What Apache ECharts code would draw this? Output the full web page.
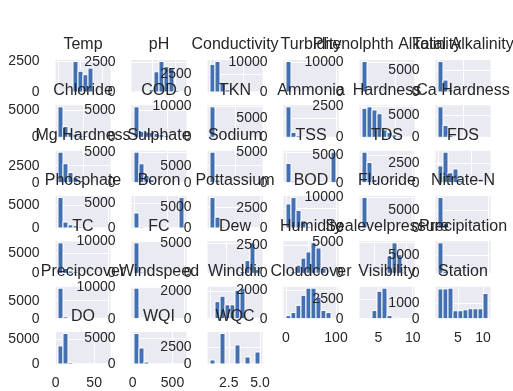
<!DOCTYPE html>
<html>
<head>
<meta charset="utf-8">
<script src="https://cdn.jsdelivr.net/npm/echarts@6/dist/echarts.min.js"></script>
<style>
  html, body { margin: 0; background: #fff; }
  #chart { width: 513px; height: 391px; }
</style>
</head>
<body>
<div id="chart"></div>
<script>
// one histogram per column, 10 bins each, laid out 6 per row
const names = [
  'Temp', 'pH', 'Conductivity', 'Turbidity', 'Phenolphth Alkalinity', 'Total Alkalinity',
  'Chloride', 'COD', 'TKN', 'Ammonia', 'Hardness', 'Ca Hardness',
  'Mg Hardness', 'Sulphate', 'Sodium', 'TSS', 'TDS', 'FDS',
  'Phosphate', 'Boron', 'Pottassium', 'BOD', 'Fluoride', 'Nitrate-N',
  'TC', 'FC', 'Dew', 'Humidity', 'Sealevelpressure', 'Precipitation',
  'Precipcover', 'Windspeed', 'Winddir', 'Cloudcover', 'Visibility', 'Station',
  'DO', 'WQI', 'WQC'
];

// bin counts
const counts = [
  [0, 5, 40, 2500, 1700, 1420, 1960, 30, 0, 5],
  [50, 30, 20, 200, 1720, 2590, 2150, 2070, 150, 50],
  [3900, 4300, 1250, 300, 100, 40, 20, 10, 5, 5],
  [10200, 60, 20, 10, 5, 3, 2, 1, 0, 1],
  [10250, 30, 10, 5, 2, 1, 1, 0, 0, 1],
  [6900, 2700, 500, 100, 40, 20, 10, 5, 2, 2],
  [5600, 2000, 800, 600, 400, 300, 200, 100, 50, 20],
  [5600, 1100, 1000, 900, 700, 500, 300, 150, 50, 20],
  [9800, 300, 100, 50, 20, 10, 5, 0, 0, 2],
  [8000, 1300, 400, 200, 80, 20, 10, 5, 0, 2],
  [2330, 2450, 2200, 1900, 600, 400, 200, 100, 50, 30],
  [6900, 2700, 500, 150, 50, 20, 10, 5, 0, 2],
  [4500, 2800, 1500, 750, 300, 150, 80, 40, 20, 10],
  [5000, 3100, 1200, 500, 200, 100, 50, 20, 10, 5],
  [9000, 800, 200, 100, 50, 20, 10, 5, 0, 2],
  [3150, 250, 80, 30, 20, 10, 10, 5, 20, 5000],
  [5600, 3700, 600, 200, 80, 30, 10, 5, 0, 2],
  [2200, 4000, 1300, 1800, 300, 100, 50, 20, 10, 5],
  [6700, 1300, 700, 500, 300, 200, 100, 50, 20, 10],
  [3000, 200, 100, 50, 20, 10, 5, 5, 20, 6100],
  [7300, 2600, 300, 100, 50, 20, 10, 5, 0, 2],
  [3000, 3800, 2200, 900, 200, 80, 30, 10, 5, 2],
  [9800, 300, 100, 50, 20, 10, 5, 2, 1, 1],
  [8500, 1200, 300, 150, 80, 40, 20, 10, 5, 2],
  [7600, 1200, 600, 400, 200, 100, 50, 30, 10, 5],
  [9600, 400, 150, 60, 30, 20, 10, 5, 2, 1],
  [5, 5, 10, 20, 50, 100, 300, 2100, 5000, 600],
  [20, 150, 715, 1340, 1880, 2680, 2230, 450, 50, 10],
  [10, 10, 20, 50, 150, 2800, 4900, 3000, 200, 30],
  [8500, 600, 300, 200, 150, 100, 80, 50, 30, 20],
  [8500, 500, 300, 200, 150, 120, 100, 80, 60, 150],
  [9600, 150, 30, 10, 5, 2, 1, 0, 0, 1],
  [50, 1230, 1620, 1000, 1000, 2050, 2200, 100, 30, 20],
  [210, 430, 930, 1640, 2140, 2140, 1500, 570, 430, 70],
  [10, 20, 1050, 3550, 3950, 400, 100, 80, 20, 10],
  [1950, 1950, 2000, 520, 520, 580, 650, 650, 650, 1650],
  [3650, 6150, 300, 50, 20, 10, 5, 0, 0, 3],
  [5850, 3070, 380, 100, 50, 20, 10, 5, 3, 2],
  [590, 0, 4480, 0, 0, 2800, 0, 1030, 0, 1760]
];

// data range of each column (first bin edge, last bin edge)
const lo = [0, 1, 0, 0, 0, 0, 0, 0, 0, 0, 0, 0, 0, 0, 0, 0, 0, 0, 0, 0,
  0, 0, 0, 0, 0, 0, -15, 10, 990, 0, 0, 0, 0, 0, 2.6, 1, 3, 18, 1];
const hi = [45, 12, 30000, 500, 300, 2000, 2000, 1500, 400, 100, 1500, 1000,
  1000, 1500, 2000, 1000, 5000, 3000, 10, 3, 100, 50, 20, 50,
  2000, 1000, 30, 100, 1030, 100, 100, 500, 360, 100, 9.9, 11, 68, 644, 5];

// tick values
const xTicks = [
  [0, 20, 40], [5, 10], [0, 20000], [0, 500], [0, 200], [0, 1000],
  [0, 1000], [0, 1000], [0, 200], [0, 100], [0, 1000], [0, 500],
  [0, 500], [0, 1000], [0, 1000], [0, 1000], [0, 5000], [0, 2000],
  [0, 10], [0, 2], [0, 100], [0, 50], [0, 20], [0, 50],
  [0, 2000], [0, 1000], [0, 20], [50, 100], [1000, 1025], [0, 100],
  [0, 100], [0, 500], [0, 200], [0, 100], [5, 10], [5, 10],
  [0, 50], [0, 500], [2.5, 5]
];
const yTicks = [
  2500, 2500, 2500, 10000, 10000, 5000,
  5000, 5000, 10000, 5000, 2500, 5000,
  2500, 5000, 5000, 5000, 5000, 2500,
  5000, 5000, 5000, 2500, 10000, 5000,
  5000, 10000, 5000, 2500, 5000, 5000,
  5000, 10000, 2000, 2000, 2500, 1000,
  5000, 5000, 2500
];

const FONT = '"Liberation Sans", Arial, sans-serif';
const INK = '#262626';
const BLUE = '#4470b2';
const W = 55, H = 32;
const colLeft = c => 55.5 + 76 * c;
const rowTop = r => 60 + 45.33 * r;
// last row that has a plot in each column
const lastRow = [6, 6, 6, 5, 5, 5];

const grid = [], xAxis = [], yAxis = [], series = [], title = [];

names.forEach((name, i) => {
  const r = Math.floor(i / 6), c = i % 6;
  const left = colLeft(c), top = rowTop(r);
  const n = counts[i];
  const span = hi[i] - lo[i];
  const bw = span / n.length;
  const z = i * 4; // later plots sit on top of earlier ones

  grid.push({ left, top, width: W, height: H, show: true,
    backgroundColor: '#eaeaf2', borderWidth: 0, z });

  xAxis.push({
    gridIndex: i, type: 'value', z: z + 1,
    min: lo[i] - 0.05 * span, max: hi[i] + 0.05 * span,
    axisLine: { show: false },
    axisTick: { show: false, customValues: xTicks[i] },
    axisLabel: {
      show: r === lastRow[c], customValues: xTicks[i], margin: 12,
      fontSize: 14, color: INK, fontFamily: FONT,
      formatter: v => (name === 'WQC' ? v.toFixed(1) : String(v))
    },
    splitLine: { show: true, lineStyle: { color: '#fff', width: 1 } }
  });

  yAxis.push({
    gridIndex: i, type: 'value', z: z + 1,
    min: 0, max: Math.max(...n) * 1.05,
    axisLine: { show: false },
    axisTick: { show: false, customValues: [0, yTicks[i]] },
    axisLabel: { customValues: [0, yTicks[i]], margin: 16, fontSize: 14,
      color: INK, fontFamily: FONT, formatter: v => String(v) },
    splitLine: { show: true, lineStyle: { color: '#fff', width: 1 } }
  });

  series.push({
    type: 'custom', xAxisIndex: i, yAxisIndex: i, z: z + 2, silent: true,
    data: n.map((v, k) => [lo[i] + k * bw, lo[i] + (k + 1) * bw, v]),
    encode: { x: [0, 1], y: 2 },
    renderItem: (params, api) => {
      const p0 = api.coord([api.value(0), api.value(2)]);
      const p1 = api.coord([api.value(1), 0]);
      return {
        type: 'rect',
        shape: { x: p0[0], y: p0[1], width: p1[0] - p0[0], height: p1[1] - p0[1] },
        style: { fill: BLUE, stroke: '#fff', lineWidth: 1 }
      };
    }
  });

  title.push({
    text: name, left: left + W / 2, top: top - 23, textAlign: 'center',
    padding: 0, z: z + 3,
    textStyle: { fontSize: 16, fontWeight: 'normal', color: INK, fontFamily: FONT }
  });
});

const chart = echarts.init(document.getElementById('chart'));
chart.setOption({ animation: false, title, grid, xAxis, yAxis, series });
</script>
</body>
</html>
